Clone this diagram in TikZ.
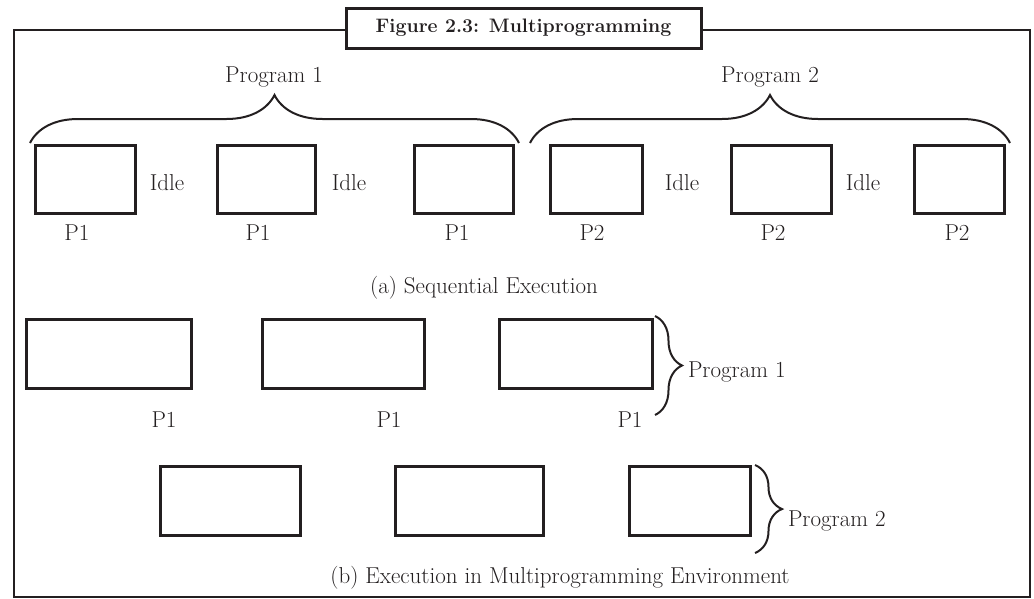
\documentclass[tikz,border=0pt]{standalone}
\usetikzlibrary{decorations.pathreplacing}
\definecolor{ink}{HTML}{231F20}
\begin{document}
\begin{tikzpicture}[x=1pt,y=-1pt,
  every node/.style={inner sep=0pt, outer sep=0pt, text=ink},
  lbl/.style={font=\fontsize{23}{27}\selectfont, anchor=base},
  sidelbl/.style={font=\fontsize{23}{27}\selectfont, anchor=base west},
  procbox/.style={draw=ink, line width=3pt, rectangle, minimum height=68pt},
  framebox/.style={draw=ink, line width=2.6pt, rectangle},
  titlebox/.style={draw=ink, line width=3pt, fill=white, rectangle,
    font=\bfseries\fontsize{19.5}{23}\selectfont},
  curly/.style={draw=ink, line width=2pt, decorate,
    decoration={brace, amplitude=#1}},
]
\useasboundingbox (0,0) rectangle (1034,598);

% outer frame and caption
\node[framebox, minimum width=1016pt, minimum height=567pt] (frame) at (522,313.5) {};
\node[titlebox, minimum width=355pt, minimum height=40pt] (title) at (523.5,28)
  {Figure 2.3: Multiprogramming};

% ---- (a) sequential execution ----
\node[procbox, minimum width=100pt] (a1) at (85,179) {};
\node[procbox, minimum width=98pt]  (a2) at (266,179) {};
\node[procbox, minimum width=99pt]  (a3) at (463.5,179) {};
\node[procbox, minimum width=92pt]  (a4) at (596,179) {};
\node[procbox, minimum width=100pt] (a5) at (781,179) {};
\node[procbox, minimum width=90pt]  (a6) at (959,179) {};

\node[lbl] (idle1) at (167,190) {Idle};
\node[lbl] (idle2) at (349,190) {Idle};
\node[lbl] (idle3) at (682,190) {Idle};
\node[lbl] (idle4) at (863,190) {Idle};

\node[lbl] (pa1) at (77,240) {P1};
\node[lbl] (pa2) at (258,240) {P1};
\node[lbl] (pa3) at (457,240) {P1};
\node[lbl] (pa4) at (592,240) {P2};
\node[lbl] (pa5) at (773,240) {P2};
\node[lbl] (pa6) at (957,240) {P2};

\coordinate (ba1) at (30,143);
\coordinate (ba2) at (519,143);
\coordinate (ba3) at (530,143);
\coordinate (ba4) at (1010,143);
\draw[curly=48pt] (ba1) -- (ba2);
\draw[curly=48pt] (ba3) -- (ba4);
\node[lbl] (prog1a) at (274,82) {Program 1};
\node[lbl] (prog2a) at (770,82) {Program 2};

\node[lbl] (capa) at (484,293) {(a) Sequential Execution};

% ---- (b) multiprogramming ----
\node[procbox, minimum width=165pt, minimum height=69pt] (b1) at (108.5,353.5) {};
\node[procbox, minimum width=162pt, minimum height=69pt] (b2) at (343,353.5) {};
\node[procbox, minimum width=153pt, minimum height=69pt] (b3) at (575.5,353.5) {};

\node[lbl] (pb1) at (164,427) {P1};
\node[lbl] (pb2) at (389,427) {P1};
\node[lbl] (pb3) at (630,427) {P1};

\node[procbox, minimum width=140.5pt, minimum height=69pt] (c1) at (230.5,500.5) {};
\node[procbox, minimum width=148.4pt, minimum height=69pt] (c2) at (469.3,500.5) {};
\node[procbox, minimum width=120.7pt, minimum height=69pt] (c3) at (690.3,500.5) {};

\coordinate (bb1) at (655,316);
\coordinate (bb2) at (655,415);
\coordinate (bc1) at (755,465);
\coordinate (bc2) at (755,553);
\draw[curly=27pt] (bb1) -- (bb2);
\draw[curly=27pt] (bc1) -- (bc2);
\node[sidelbl] (prog1b) at (688,377) {Program 1};
\node[sidelbl] (prog2b) at (788,526) {Program 2};

\node[lbl] (capb) at (560,583) {(b) Execution in Multiprogramming Environment};
\end{tikzpicture}
\end{document}
